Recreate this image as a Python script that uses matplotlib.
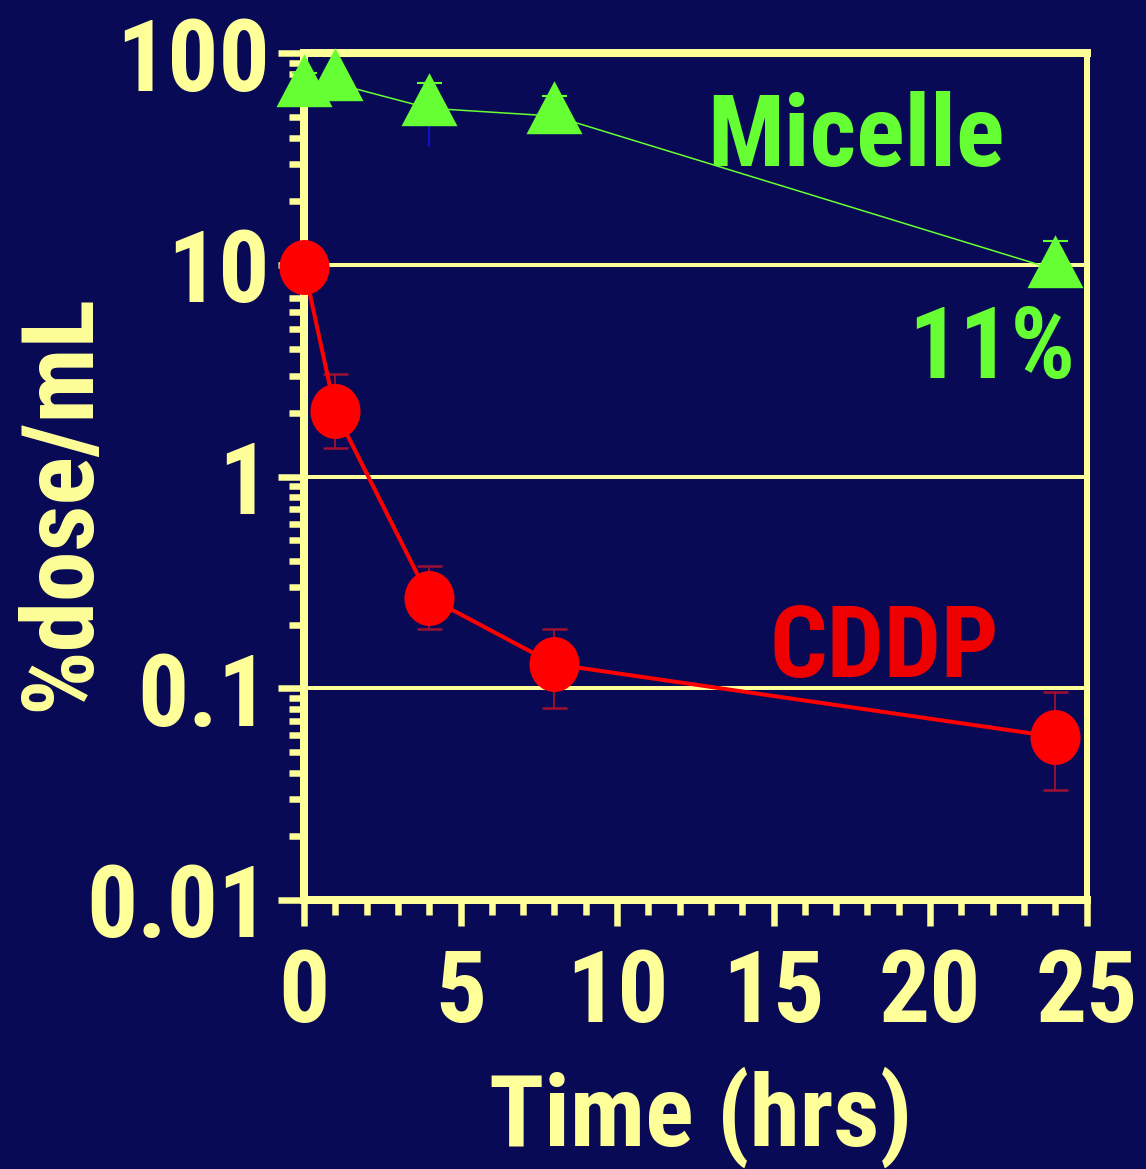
import matplotlib
matplotlib.use("Agg")
import matplotlib.pyplot as plt
import numpy as np
from matplotlib import font_manager
from matplotlib.path import Path
from matplotlib.ticker import FixedLocator, FixedFormatter, LogLocator, NullFormatter, MultipleLocator

# ---------------- data ----------------
time_hrs = [0, 1, 4, 8, 24]

micelle = [68, 72, 55, 50.5, 9.5]
micelle_high = [81, 97, 72, 63, 13.0]
micelle_low = [68, 72, 36, 50.5, 9.5]

cddp = [9.8, 2.04, 0.268, 0.13, 0.059]
cddp_high = [9.8, 3.05, 0.377, 0.19, 0.096]
cddp_low = [9.8, 1.36, 0.19, 0.081, 0.033]

y_ticks = [0.01, 0.1, 1, 10, 100]
y_tick_labels = ["0.01", "0.1", "1", "10", "100"]
x_ticks = [0, 5, 10, 15, 20, 25]
x_tick_labels = ["0", "5", "10", "15", "20", "25"]

# ---------------- style ----------------
W, H, DPI = 1146, 1169, 100
BG = "#080a55"
YEL = "#ffff99"
GREEN = "#66ff33"
RED = "#ff0000"
DARKRED = "#a01030"
BLUE = "#1010cc"

names = {f.name for f in font_manager.fontManager.ttflist}
narrow = [n for n in ["Liberation Sans Narrow", "Arial Narrow", "Roboto Condensed", "Open Sans Condensed"]
          if n in names]
if narrow:
    FAM = [narrow[0], "DejaVu Sans"]
    FS = 73
else:
    FAM = ["Liberation Sans", "DejaVu Sans"]
    FS = 70
plt.rcParams["font.family"] = FAM

fig = plt.figure(figsize=(W / DPI, H / DPI), dpi=DPI, facecolor=BG)
ax = fig.add_axes([304 / W, 1 - 900 / H, (1086.5 - 304) / W, (900 - 53.3) / H])
ax.set_facecolor(BG)

ax.set_yscale("log")
ax.set_ylim(0.01, 100)
ax.set_xlim(0, 25)

# custom markers
ell = Path(Path.unit_circle().vertices * np.array([0.91, 1.0]), Path.unit_circle().codes)
tri = Path([(0, 35.3), (-28, -17.7), (28, -17.7), (0, 35.3)],
           [Path.MOVETO, Path.LINETO, Path.LINETO, Path.CLOSEPOLY])

px2pt = 72 / DPI

t = np.array(time_hrs)
m = np.array(micelle)
c = np.array(cddp)

# micelle
ax.errorbar(t, m, yerr=[np.zeros_like(m), np.array(micelle_high) - m], fmt="none",
            ecolor=GREEN, elinewidth=1.2, capsize=12.5 * px2pt, capthick=1.5, zorder=3, clip_on=False)
ax.errorbar(t, m, yerr=[m - np.array(micelle_low), np.zeros_like(m)], fmt="none",
            ecolor=BLUE, elinewidth=1.5, capsize=0, zorder=3, clip_on=False)
ax.plot(t, m, color=GREEN, lw=1.1, zorder=4, clip_on=False)
ax.plot(t, m, linestyle="none", marker=tri, markersize=70.6 * px2pt, markerfacecolor=GREEN,
        markeredgewidth=0, zorder=6, clip_on=False)

# cddp
ax.errorbar(t, c, yerr=[c - np.array(cddp_low), np.array(cddp_high) - c], fmt="none",
            ecolor=DARKRED, elinewidth=1.3, capsize=12.5 * px2pt, capthick=1.8, zorder=3, clip_on=False)
ax.plot(t, c, color=RED, lw=4 * px2pt, zorder=4, clip_on=False)
ax.plot(t, c, linestyle="none", marker=ell, markersize=55 * px2pt, markerfacecolor=RED,
        markeredgewidth=0, zorder=6, clip_on=False)

# axes styling
for side in ["left", "top", "bottom"]:
    ax.spines[side].set_color(YEL)
    ax.spines[side].set_linewidth(8 * px2pt)
ax.spines["right"].set_color(YEL)
ax.spines["right"].set_linewidth(6 * px2pt)
for sp in ax.spines.values():
    sp.set_zorder(5)

ax.yaxis.set_major_locator(FixedLocator(y_ticks))
ax.yaxis.set_major_formatter(FixedFormatter(y_tick_labels))
ax.yaxis.set_minor_locator(LogLocator(base=10, subs=np.arange(2, 10)))
ax.yaxis.set_minor_formatter(NullFormatter())
ax.xaxis.set_major_locator(FixedLocator(x_ticks))
ax.xaxis.set_major_formatter(FixedFormatter(x_tick_labels))
ax.xaxis.set_minor_locator(MultipleLocator(1))

ax.tick_params(axis="both", which="major", direction="out", color=YEL, width=6.5 * px2pt,
               length=26 * px2pt, labelcolor=YEL, labelsize=FS)
ax.tick_params(axis="both", which="minor", direction="out", color=YEL, width=6.5 * px2pt,
               length=15 * px2pt)
ax.tick_params(axis="y", which="major", pad=6)
ax.tick_params(axis="x", which="major", pad=15)
for lab in ax.get_xticklabels() + ax.get_yticklabels():
    lab.set_fontweight("bold")

ax.set_axisbelow(True)
ax.yaxis.grid(True, which="major", color=YEL, linewidth=4 * px2pt)
ax.xaxis.grid(False)

def ftext(xp, yp, s, color, **kw):
    fig.text(xp / W, 1 - yp / H, s, color=color, fontsize=FS, fontweight="bold", **kw)

ftext(856, 166, "Micelle", GREEN, ha="center", va="baseline")
ftext(992, 378, "11%", GREEN, ha="center", va="baseline")
ftext(884, 677, "CDDP", "#ee0000", ha="center", va="baseline")
ftext(701, 1146, "Time (hrs)", YEL, ha="center", va="baseline")
ftext(89, 502.5, "%dose/mL", YEL, ha="center", va="baseline", rotation=90, rotation_mode="anchor")

fig.savefig("out.png", dpi=DPI, facecolor=BG)
